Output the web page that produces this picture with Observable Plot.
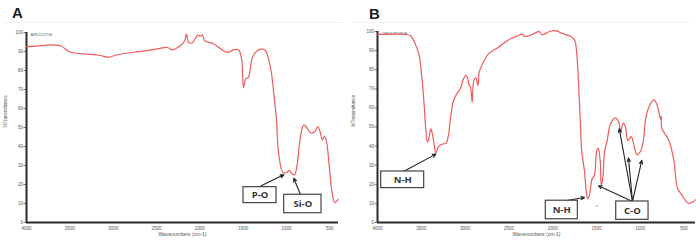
<!DOCTYPE html>
<html><head><meta charset="utf-8">
<script src="https://cdn.jsdelivr.net/npm/d3@7"></script>
<script src="https://cdn.jsdelivr.net/npm/@observablehq/plot@0.6"></script>
<style>
body{margin:0;background:#fff;font-family:"Open Sans",Arial,sans-serif;}
#wrap{position:relative;width:696px;height:242px;overflow:hidden;background:#fff}
.panel{position:absolute;top:0}
.letter{position:absolute;font:bold 15px "Liberation Sans",Arial,sans-serif;color:#1a1a1a;line-height:1}
.hr{position:absolute;top:22px;height:0;border-top:1px solid #f1f1f1}
</style></head><body><div id="wrap"></div>
<script>
// ---------- data ----------
const panelLetters = ["A", "B"];
const sampleNames = ["AFK21075B", "OAFK2P0P5A"];
const xTicks = [4000, 3500, 3000, 2500, 2000, 1500, 1000, 500];
const yTicks = [0, 10, 20, 30, 40, 50, 60, 70, 80, 90, 100];
const xLabel = "Wavenumbers (cm-1)";
const yLabel = "%Transmittance";

// Spectrum A
const aWavenumber = [4000,3850,3723,3608,3492,3342,3146,3065,2950,2765,2650,2490,2373,2316,2223,2177,2154,2131,2085,2027,1992,1969,1946,1842,1681,1612,1554,1519,1496,1473,1439,1392,1335,1277,1242,1185,1138,1115,1089,1038,992,969,942,908,877,847,819,800,769,715,673,639,608,588,562,538,512,473,443,415,404];
const aTransmittance = [92.6,93.0,93.5,93.0,89.6,88.8,87.9,87.0,88.3,89.6,90.2,91.4,92.1,90.9,93.2,95.4,99.1,94.9,94.6,98.6,98.1,98.8,95.8,94.1,89.5,91.0,90.9,86.2,70.9,75.4,76.5,87.0,90.5,91.2,90.5,81.7,64.2,53.7,35.6,26.0,26.5,27.5,26.0,25.1,30.4,42.6,49.6,51.4,50.0,47.0,47.9,50.5,47.0,43.5,45.3,42.6,32.1,15.4,10.5,11.4,12.3];

// Spectrum B
const bWavenumber = [4000,3850,3684,3627,3570,3524,3494,3463,3456,3429,3414,3392,3372,3353,3334,3304,3266,3220,3189,3170,3132,3095,3056,3018,2992,2969,2953,2938,2919,2901,2878,2855,2839,2809,2733,2619,2505,2371,2353,2322,2239,2154,2124,2055,2002,1953,1896,1800,1751,1725,1705,1686,1668,1637,1617,1599,1580,1553,1523,1496,1481,1457,1446,1428,1408,1378,1340,1283,1245,1226,1195,1169,1143,1104,1070,1038,990,960,944,906,846,804,769,760,755,678,621,575,527,450,393,373];
const bTransmittance = [98.5,98.6,98.5,97.9,93.6,87.4,76.0,58.6,52.9,42.0,44.0,49.0,45.9,40.7,36.3,39.8,41.0,41.4,45.9,53.5,63.9,67.4,70.0,75.2,77.0,75.2,71.7,70.8,63.0,74.3,75.7,71.7,78.7,82.2,88.3,91.8,95.6,98.3,98.8,97.5,98.3,100.0,98.3,99.6,100.4,100.3,99.1,97.5,95.6,88.3,72.6,54.0,37.2,26.7,16.2,12.4,14.5,22.4,25.0,38.0,38.8,31.9,19.7,23.2,37.2,43.0,51.7,54.8,52.5,47.3,52.0,49.9,42.9,45.0,40.0,35.5,38.0,44.7,52.9,60.0,64.2,61.0,54.3,55.5,49.4,43.3,33.7,18.0,14.5,10.1,11.0,11.9];

// Annotation boxes (wavenumber / transmittance extents) and arrows
const aBoxLabels = ["P-O", "Si-O"];
const aBoxX1 = [1496, 1027], aBoxX2 = [1115, 596], aBoxY1 = [10.2, 4.9], aBoxY2 = [18.6, 14.6];
const aArrowX1 = [1292, 838], aArrowY1 = [19.3, 14.6], aArrowX2 = [1031, 916], aArrowY2 = [25.1, 23.3];

const bBoxLabels = ["N-H", "N-H", "C-O"];
const bBoxX1 = [3958, 2079, 1275], bBoxX2 = [3467, 1713, 906], bBoxY1 = [18, 1.7, 1.4], bBoxY2 = [26.7, 11.4, 11];
const bArrowX1 = [3703, 1857, 1089, 1089, 1089, 1089], bArrowY1 = [26.7, 11.4, 11, 11, 11, 11];
const bArrowX2 = [3334, 1637, 1477, 1240, 1135, 983], bArrowY2 = [35.8, 13.1, 19.2, 49, 33.7, 32.5];
const bMarks = [{x: 1496, y: 8.7, t: "x"}];

// ---------- build ----------
const zip = (xs, ys) => xs.map((x, i) => ({x, y: ys[i]}));
const boxes = (l, x1, x2, y1, y2) => l.map((t, i) => ({t, x1: x1[i], x2: x2[i], y1: y1[i], y2: y2[i], cx: (x1[i] + x2[i]) / 2, cy: (y1[i] + y2[i]) / 2}));
const arrows = (x1, y1, x2, y2) => x1.map((v, i) => ({x1: v, y1: y1[i], x2: x2[i], y2: y2[i]}));

function panel({data, domainEnd, mL, mR, mT, name, bx, ar, extra}) {
  return Plot.plot({
    width: 348, height: 242,
    marginLeft: mL, marginRight: mR, marginTop: mT, marginBottom: 20,
    style: {background: "transparent", fontFamily: "Arial, 'Liberation Sans', sans-serif"},
    x: {domain: [4000, domainEnd]},
    y: {domain: [0, 100]},
    marks: [
      Plot.axisY({ticks: yTicks, tickFormat: d => String(d), tickSize: 2.5, tickPadding: 1, fontSize: 4.5, fill: "#555", stroke: "#777", label: null}),
      Plot.axisX({ticks: xTicks, tickFormat: d => String(d), tickSize: 0, tickPadding: 4, fontSize: 4.5, fill: "#555", label: null}),
      Plot.text([yLabel], {frameAnchor: "left", dx: -(mL - 5), rotate: -90, fontSize: 4.5, fill: "#555"}),
      Plot.text([xLabel], {frameAnchor: "bottom", dy: 13, fontSize: 5, fill: "#555"}),
      Plot.text([name], {frameAnchor: "top-left", dx: 4, dy: 1, fontSize: 4, fill: "#666", textAnchor: "start"}),
      Plot.ruleY([0], {stroke: "#2a2a2a", strokeWidth: 2}),
      Plot.ruleX([4000], {stroke: "#2a2a2a", strokeWidth: 2}),
      Plot.line(data, {x: "x", y: "y", stroke: "#f05a5a", strokeWidth: 1.2, curve: "catmull-rom"}),
      Plot.arrow(ar, {x1: "x1", y1: "y1", x2: "x2", y2: "y2", stroke: "#222", strokeWidth: 1.1, headLength: 5, headAngle: 50}),
      Plot.rect(bx, {x1: "x1", x2: "x2", y1: "y1", y2: "y2", fill: "white", stroke: "#444", strokeWidth: 1.2}),
      Plot.text(bx, {x: "cx", y: "cy", text: "t", fontSize: 9.5, fontWeight: "bold", fill: "#333", fontFamily: "'Open Sans', Arial, sans-serif"}),
      extra ? Plot.text(extra, {x: "x", y: "y", text: "t", fontSize: 4, fill: "#777"}) : null
    ]
  });
}

const wrap = document.getElementById("wrap");
const configs = [
  {data: zip(aWavenumber, aTransmittance), domainEnd: 400, mL: 26, mR: 10, mT: 32, name: sampleNames[0],
   bx: boxes(aBoxLabels, aBoxX1, aBoxX2, aBoxY1, aBoxY2), ar: arrows(aArrowX1, aArrowY1, aArrowX2, aArrowY2)},
  {data: zip(bWavenumber, bTransmittance), domainEnd: 370, mL: 29, mR: 1, mT: 31, name: sampleNames[1],
   bx: boxes(bBoxLabels, bBoxX1, bBoxX2, bBoxY1, bBoxY2), ar: arrows(bArrowX1, bArrowY1, bArrowX2, bArrowY2), extra: bMarks}
];
const letterPos = [[12, 5], [369, 6]];
configs.forEach((c, i) => {
  const hr = document.createElement("div");
  hr.className = "hr";
  hr.style.left = (i * 348 + 4) + "px";
  hr.style.width = "338px";
  wrap.appendChild(hr);
  const svg = panel(c);
  svg.classList.add("panel");
  svg.style.left = (i * 348) + "px";
  wrap.appendChild(svg);
  const l = document.createElement("div");
  l.className = "letter";
  l.textContent = panelLetters[i];
  l.style.left = letterPos[i][0] + "px";
  l.style.top = letterPos[i][1] + "px";
  wrap.appendChild(l);
});
</script>
</body></html>
